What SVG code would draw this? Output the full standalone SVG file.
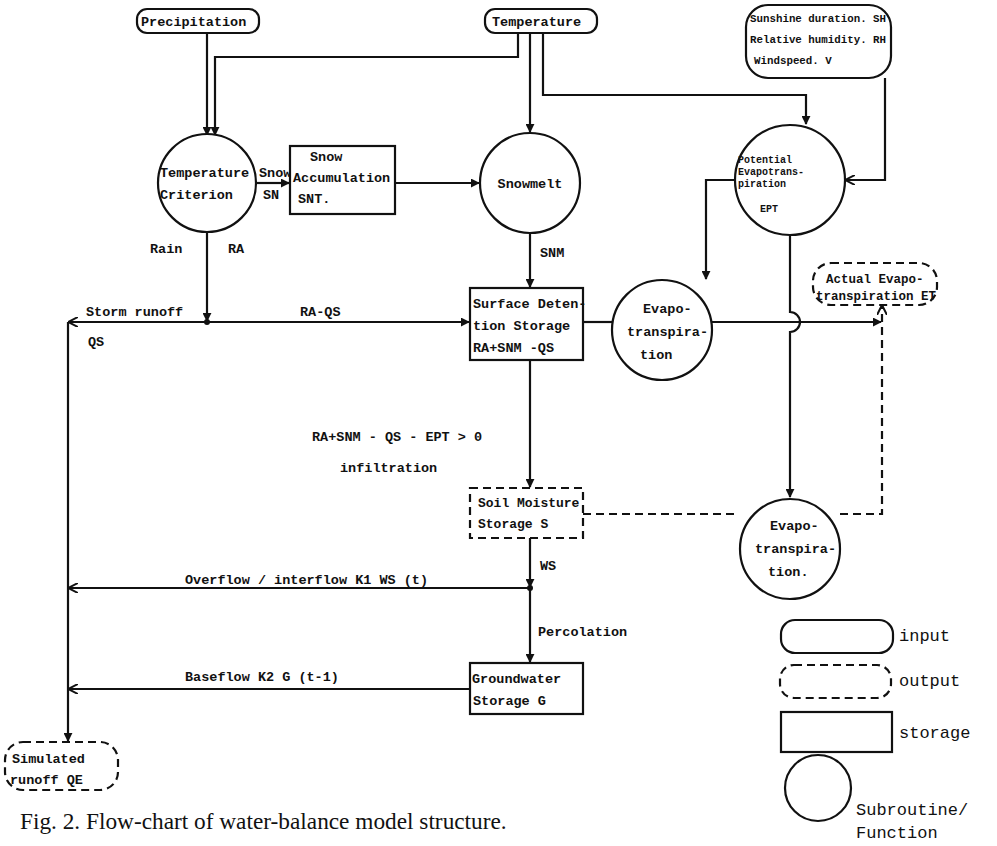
<svg xmlns="http://www.w3.org/2000/svg" width="997" height="846" viewBox="0 0 997 846">
<defs>
<marker id="ah" viewBox="0 0 10 10" refX="9" refY="5" markerWidth="9" markerHeight="9" markerUnits="userSpaceOnUse" orient="auto">
<path d="M0,0 L10,5 L0,10 z" fill="#111"/>
</marker>
<marker id="ao" viewBox="0 0 10 10" refX="9" refY="5" markerWidth="10" markerHeight="10" markerUnits="userSpaceOnUse" orient="auto">
<path d="M0,0 L10,5 L0,10" fill="none" stroke="#111" stroke-width="2"/>
</marker>
</defs>
<style>
.n{fill:#fff;stroke:#111;stroke-width:2.2}
.nd{fill:#fff;stroke:#111;stroke-width:2.2;stroke-dasharray:8 5}
.c{fill:none;stroke:#111;stroke-width:2.2}
.cd{fill:none;stroke:#111;stroke-width:2.2;stroke-dasharray:8 5}
text{font-family:"Liberation Mono","DejaVu Sans Mono",monospace;fill:#111}
.t{font-size:13.5px;font-weight:bold}
.ts{font-size:10.8px;font-weight:bold}
.tp{font-size:10px;font-weight:bold}
.lg{font-size:17px}
.cap{font-family:"Liberation Serif","Times New Roman",serif;font-size:23.3px}
</style>
<rect width="997" height="846" fill="#fff"/>

<g id="connectors">
<path class="c" d="M207,33 V135" marker-end="url(#ah)"/>
<path class="c" d="M518,33 V57 H215 V135" marker-end="url(#ah)"/>
<path class="c" d="M530,33 V132" marker-end="url(#ah)"/>
<path class="c" d="M543,33 V95 H806 V124" marker-end="url(#ah)"/>
<path class="c" d="M885,78 V180 H846" marker-end="url(#ao)"/>
<path class="c" d="M257,183 H289" marker-end="url(#ah)"/>
<path class="c" d="M395,183 H479" marker-end="url(#ah)"/>
<path class="c" d="M207,232 V321" marker-end="url(#ah)"/>
<circle cx="207" cy="322" r="3" fill="#111"/>
<path class="c" d="M207,322 H69" marker-end="url(#ao)"/>
<path class="c" d="M207,322 H469" marker-end="url(#ah)"/>
<path class="c" d="M530,233 V287" marker-end="url(#ah)"/>
<path class="c" d="M68,322 V741" marker-end="url(#ah)"/>
<path class="c" d="M583,322 H612"/>
<path class="c" d="M712,322 H881" marker-end="url(#ah)"/>
<path class="c" d="M735,180 H706 V279" marker-end="url(#ah)"/>
<path class="c" d="M790,236 V312 A10,10 0 0 1 790,332 V497" marker-end="url(#ah)"/>
<path class="c" d="M530,360 V487" marker-end="url(#ah)"/>
<path class="cd" d="M583,514 H738"/>
<path class="cd" d="M840,514 H882 V306" marker-end="url(#ao)"/>
<path class="c" d="M530,538 V587" marker-end="url(#ah)"/>
<circle cx="530" cy="588" r="3" fill="#111"/>
<path class="c" d="M530,588 H69" marker-end="url(#ao)"/>
<path class="c" d="M530,588 V662" marker-end="url(#ah)"/>
<path class="c" d="M470,689 H69" marker-end="url(#ao)"/>
<text class="t" x="259" y="177">Snow</text>
<text class="t" x="263" y="199">SN</text>
<text class="t" x="150" y="253">Rain</text>
<text class="t" x="228" y="253">RA</text>
<text class="t" x="86" y="316">Storm runoff</text>
<text class="t" x="88" y="346">QS</text>
<text class="t" x="300" y="316">RA-QS</text>
<text class="t" x="540" y="257">SNM</text>
<text class="t" x="312" y="441">RA+SNM - QS - EPT &gt; 0</text>
<text class="t" x="340" y="472">infiltration</text>
<text class="t" x="540" y="570">WS</text>
<text class="t" x="185" y="584">Overflow / interflow K1 WS (t)</text>
<text class="t" x="538" y="636">Percolation</text>
<text class="t" x="185" y="681">Baseflow K2 G (t-1)</text>
</g>

<g id="precipitation">
<rect class="n" x="137" y="9" width="122" height="24" rx="10"/>
<text class="t" x="141" y="26">Precipitation</text>
</g>
<g id="temperature">
<rect class="n" x="485" y="9" width="112" height="24" rx="10"/>
<text class="t" x="492" y="26">Temperature</text>
</g>
<g id="climate">
<rect class="n" x="746" y="5" width="145" height="73" rx="22"/>
<text class="ts" x="750" y="22">Sunshine duration. SH</text>
<text class="ts" x="750" y="43">Relative humidity. RH</text>
<text class="ts" x="754" y="64">Windspeed. V</text>
</g>
<g id="temp-criterion">
<circle class="n" cx="207" cy="183" r="49"/>
<text class="t" x="160" y="177">Temperature</text>
<text class="t" x="160" y="199">Criterion</text>
</g>
<g id="snow-acc">
<rect class="n" x="290" y="146" width="105" height="68"/>
<text class="t" x="310" y="161">Snow</text>
<text class="t" x="293" y="182">Accumulation</text>
<text class="t" x="298" y="203">SNT.</text>
</g>
<g id="snowmelt">
<circle class="n" cx="530" cy="183" r="50"/>
<text class="t" x="530" y="188" text-anchor="middle">Snowmelt</text>
</g>
<g id="pet">
<circle class="n" cx="790" cy="180" r="55"/>
<text class="tp" x="738" y="163">Potential</text>
<text class="tp" x="738" y="175">Evapotrans-</text>
<text class="tp" x="738" y="187">piration</text>
<text class="tp" x="760" y="212">EPT</text>
</g>
<g id="surface">
<rect class="n" x="470" y="288" width="113" height="72"/>
<text class="t" x="473" y="308">Surface Deten-</text>
<text class="t" x="473" y="330">tion Storage</text>
<text class="t" x="473" y="352">RA+SNM -QS</text>
</g>
<g id="evapo1">
<circle class="n" cx="662" cy="330" r="50"/>
<text class="t" x="643" y="313">Evapo-</text>
<text class="t" x="627" y="336">transpira-</text>
<text class="t" x="640" y="359">tion</text>
</g>
<g id="actual-et">
<rect class="nd" x="813" y="263" width="124" height="42" rx="18"/>
<text class="t" x="826" y="283" style="font-size:12.5px">Actual Evapo-</text>
<text class="t" x="816" y="300" style="font-size:12.5px">transpiration ET</text>
</g>
<g id="soil">
<rect class="nd" x="470" y="488" width="113" height="50"/>
<text class="t" x="478" y="507" style="font-size:13px">Soil Moisture</text>
<text class="t" x="478" y="528" style="font-size:13px">Storage S</text>
</g>
<g id="evapo2">
<circle class="n" cx="790" cy="549" r="50"/>
<text class="t" x="770" y="530">Evapo-</text>
<text class="t" x="755" y="553">transpira-</text>
<text class="t" x="768" y="576">tion.</text>
</g>
<g id="groundwater">
<rect class="n" x="470" y="663" width="113" height="51"/>
<text class="t" x="472" y="683">Groundwater</text>
<text class="t" x="473" y="705">Storage G</text>
</g>
<g id="simulated">
<rect class="nd" x="5" y="742" width="113" height="48" rx="18"/>
<text class="t" x="12" y="763">Simulated</text>
<text class="t" x="10" y="784">runoff QE</text>
</g>

<g id="legend">
<rect class="n" x="781" y="620" width="112" height="33" rx="14"/>
<text class="lg" x="899" y="641">input</text>
<rect class="nd" x="780" y="665" width="111" height="33" rx="14"/>
<text class="lg" x="899" y="686">output</text>
<rect class="n" x="781" y="712" width="111" height="40"/>
<text class="lg" x="899" y="738">storage</text>
<circle class="n" cx="818" cy="788" r="33"/>
<text class="lg" x="856" y="815">Subroutine/</text>
<text class="lg" x="856" y="838">Function</text>
</g>

<text class="cap" x="20" y="829">Fig. 2. Flow-chart of water-balance model structure.</text>
</svg>
